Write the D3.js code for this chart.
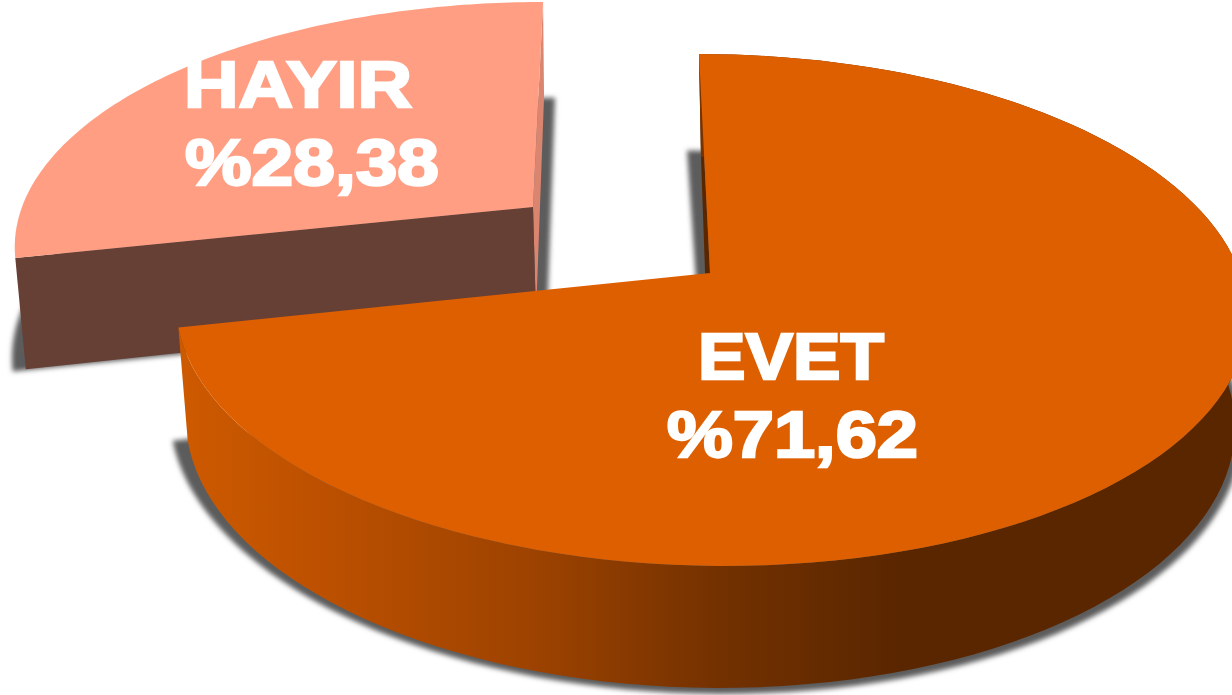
<!DOCTYPE html>
<html><head><meta charset="utf-8">
<script src="https://cdn.jsdelivr.net/npm/d3@7"></script>
<style>html,body{margin:0;padding:0;background:#fff;overflow:hidden}svg{display:block}</style>
</head><body><svg id="c" width="1232" height="695"></svg>
<script>
const categories = ["EVET", "HAYIR"];
const values = [71.62, 28.38];
const valueLabels = ["%71,62", "%28,38"];
const colors = {EVET:"#DE5F00", HAYIR:"#FF9E83"};

const W = 1232, H = 695, K = 0.1445;
const svg = d3.select("#c");
const defs = svg.append("defs");
const blur = defs.append("filter").attr("id","blur").attr("x","-10%").attr("y","-10%").attr("width","120%").attr("height","120%");
blur.append("feGaussianBlur").attr("stdDeviation",2.4);
const grad = defs.append("linearGradient").attr("id","wall").attr("gradientUnits","userSpaceOnUse")
  .attr("x1",178).attr("x2",900).attr("y1",0).attr("y2",0);
[[0,"#CE5A00"],[0.2,"#BC5000"],[0.5,"#9C4200"],[0.75,"#733100"],[1,"#5A2600"]].forEach(s=>
  grad.append("stop").attr("offset",s[0]).attr("stop-color",s[1]));

const pie = d3.pie().sort(null);
const arcs = pie(values);

// perspective projection of a circle plane onto the screen
const project = (p, ang) => {
  const X = Math.sin(ang), Y = -Math.cos(ang), w = 1 - K*Y;
  return [p.cx + (p.r*X + p.sh*Y)/w, p.cy + p.a*Y/w];
};
const rim = (p, a0, a1) => d3.range(0,121).map(i => project(p, a0 + (a1-a0)*i/120));
const line = d3.line();

const E = arcs[0], Ha = arcs[1];

const eTop  = {cx:710, cy:273, r:530, a:250.6, sh:12.6};
const eBase = {cx:709, cy:384, r:519, a:260, sh:9.2};
const eShad = {cx:703, cy:383, r:530, a:266, sh:18.3};
const hTop  = {cx:533, cy:207, r:511, a:234.6, sh:-11.5};
const hBase = {cx:536, cy:315, r:504, a:249.5, sh:-9.2};
const hShad = {cx:547, cy:317, r:528, a:251, sh:-9.2};
const apex = p => [p.cx, p.cy];

// HAYIR
svg.append("path").attr("d", line([apex(hShad), ...rim(hShad, Ha.startAngle, Ha.endAngle)])+"Z")
  .attr("fill","#5c5c5c").attr("filter","url(#blur)");
svg.append("path").attr("d", line([project(hTop,Ha.endAngle), project(hBase,Ha.endAngle), apex(hBase), apex(hTop)])+"Z").attr("fill","#D98570");
svg.append("path").attr("d", line([project(hTop,Ha.startAngle), apex(hTop), apex(hBase), project(hBase,Ha.startAngle)])+"Z").attr("fill","#663F35");
svg.append("path").attr("d", line([apex(hTop), ...rim(hTop, Ha.startAngle, Ha.endAngle)])+"Z").attr("fill",colors.HAYIR);

// EVET
svg.append("path").attr("d", line([apex(eShad), ...rim(eShad, E.startAngle, E.endAngle)])+"Z")
  .attr("fill","#5c5c5c").attr("filter","url(#blur)");
svg.append("path").attr("d", line([project(eTop,E.startAngle), project(eBase,E.startAngle), apex(eBase), apex(eTop)])+"Z").attr("fill","#5A2600");
svg.append("path").attr("d", line([...rim(eTop,E.startAngle,E.endAngle), ...rim(eBase,E.startAngle,E.endAngle).reverse()])+"Z").attr("fill","url(#wall)");
svg.append("path").attr("d", line([apex(eTop), ...rim(eTop,E.startAngle,E.endAngle)])+"Z").attr("fill",colors.EVET);

// labels
const labelSpec = [
  {t:categories[0], x:698, y:379, len:186},
  {t:valueLabels[0], x:667, y:457, len:251},
  {t:categories[1], x:184, y:107, len:228},
  {t:valueLabels[1], x:185, y:185, len:254}
];
svg.selectAll("text.l").data(labelSpec).join("text").attr("class","l")
  .attr("x",d=>d.x).attr("y",d=>d.y)
  .attr("textLength",d=>d.len).attr("lengthAdjust","spacingAndGlyphs")
  .attr("font-family","Liberation Sans, Arial, sans-serif").attr("font-weight","bold")
  .attr("font-size",64).attr("fill","#fff").attr("stroke","#fff").attr("stroke-width",2.4)
  .text(d=>d.t);
</script></body></html>
